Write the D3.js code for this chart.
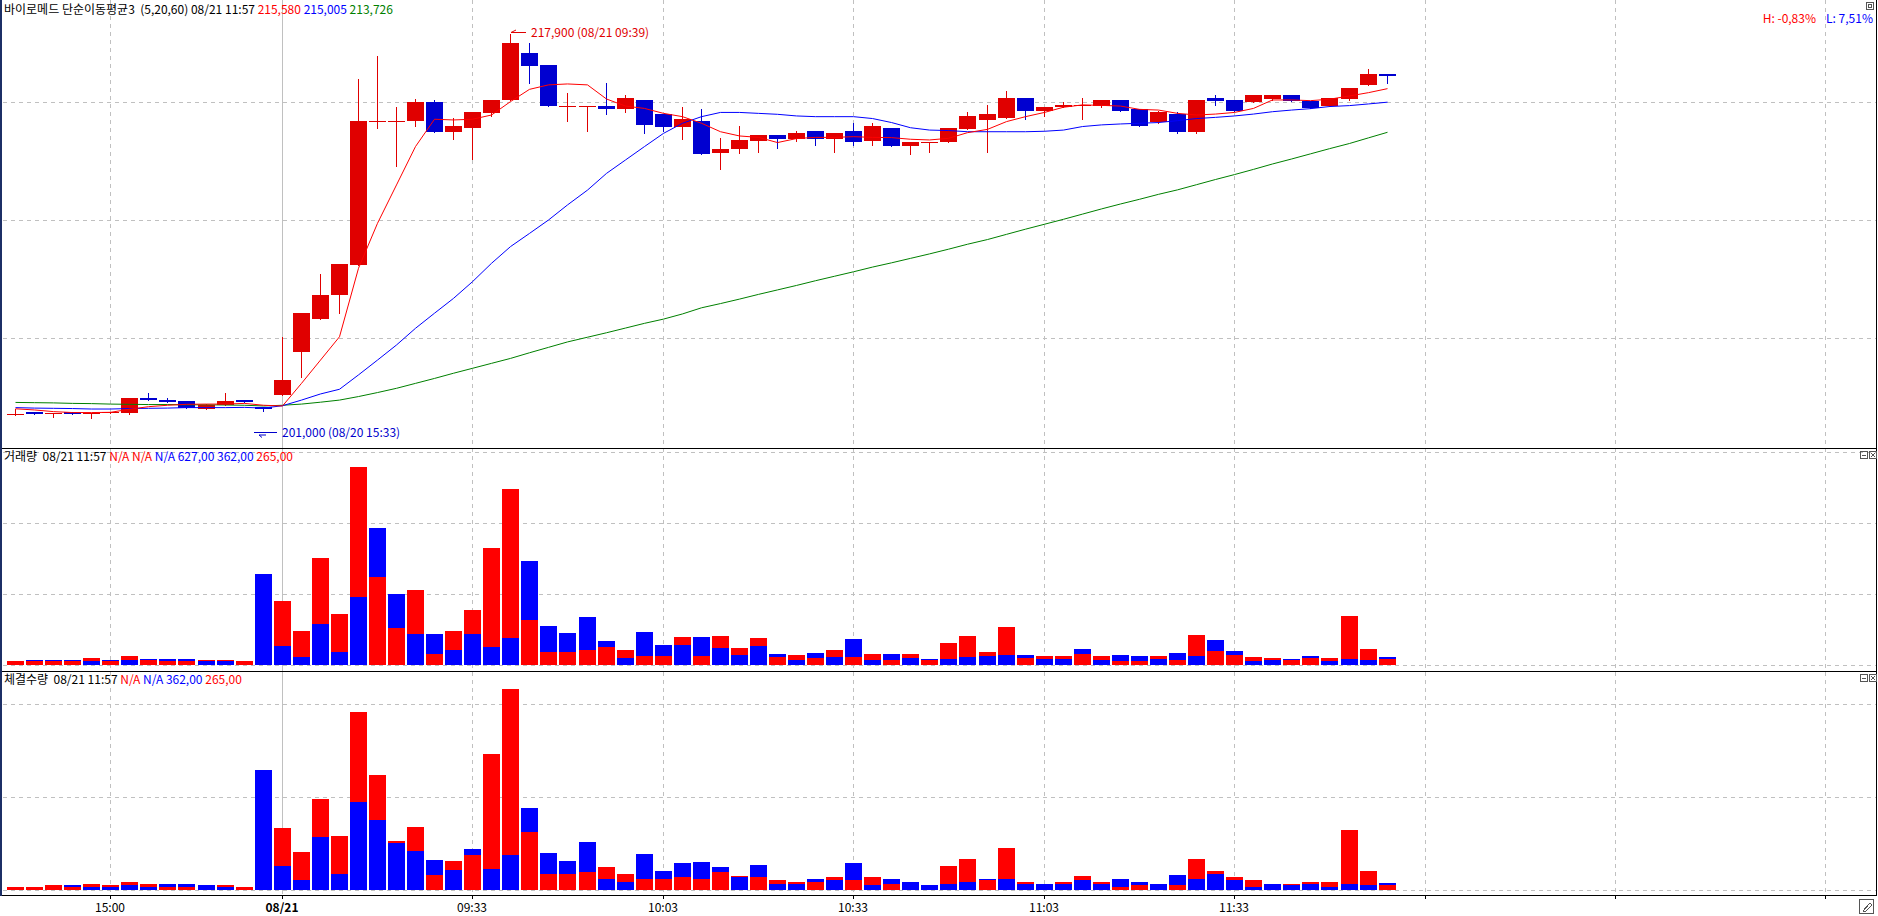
<!DOCTYPE html>
<html><head><meta charset="utf-8">
<script src="https://cdn.jsdelivr.net/npm/d3@7"></script>
<style>
html,body{margin:0;padding:0;background:#fff;overflow:hidden}
svg{display:block}
text{font-family:"Noto Sans CJK KR","Noto Sans",sans-serif;font-size:12px}
</style></head><body>
<svg id="c" width="1878" height="916"></svg>
<script>
// ---------- DATA ----------
const tickBars   = [5, 14, 24, 34, 44, 54, 64, 74, 84, 95];
const tickLabels = ["15:00", "08/21", "09:33", "10:03", "10:33", "11:03", "11:33", "", "", ""];

const opens  = [201750,201850,201750,201850,201750,201800,201800,202450,202350,202300,201950,202150,202350,202050,
  202550,204400,205800,206800,208100,214200,214200,214200,215000,213750,213900,214550,215100,217100,216600,214850,
  214850,214850,214700,215100,214500,213950,214200,212850,213000,213350,213600,213450,213800,213450,213800,213350,
  213900,213150,213300,213300,213850,214250,214350,215200,214650,214800,214900,214850,215100,214700,214150,214500,
  213750,215200,215100,215000,215150,215300,215050,214850,215150,215750,216200];
const highs  = [201950,201850,201800,201850,201800,201850,202450,202650,202450,202300,202200,202650,202350,202050,
  205050,206050,207700,208150,216000,216950,214800,215150,215100,214350,214600,215100,217900,217500,216600,215400,
  214850,215800,215300,215100,214500,214800,214700,213500,214000,213600,213600,213800,213800,213700,214100,214100,
  213900,213300,213300,213900,214600,214900,215500,215200,214800,215000,215200,215100,215100,214700,214650,214600,
  215100,215300,215100,215300,215300,215300,215050,215200,215600,216400,216200];
const lows   = [201700,201750,201650,201750,201600,201800,201750,202350,202250,202000,201950,202150,202250,201900,
  202550,203350,205800,206050,208100,213900,212300,214000,213750,213450,212600,214400,215100,215800,214850,214200,
  213800,214500,214600,213700,213800,213450,212800,212150,212850,212900,213050,213350,213200,212900,213200,213200,
  213150,212800,212900,213300,213850,212900,214350,214300,214400,214800,214300,214800,214650,214000,214100,213700,
  213700,214900,214650,215000,215100,215050,214750,214850,215100,215750,215800];
const closes = [201750,201750,201800,201750,201800,201850,202450,202350,202250,202000,202150,202300,202250,201950,
  203200,206050,206800,208150,214200,214200,214200,215000,213750,214000,214600,215100,217500,216550,214850,214850,
  214850,214700,215200,214050,213950,214300,212800,213000,213400,213600,213450,213700,213450,213700,213300,214000,
  213150,213300,213300,213900,214400,214500,215200,214650,214800,214900,214900,215100,214650,214000,214600,213750,
  215100,215050,214650,215300,215300,215050,214750,215200,215600,216200,216100];

const ma5  = [201980,201930,201860,201820,201820,201830,201960,202070,202130,202170,202180,202180,202210,202130,
  202100,203060,204050,205040,207950,209860,211490,213120,214280,214250,214280,214460,215030,215550,215740,215780,
  215740,215140,214840,214740,214530,214390,214110,213750,213570,213510,213290,213460,213510,213510,213540,213510,
  213500,213430,213400,213470,213710,213850,214180,214390,214570,214790,214890,214870,214840,214700,214670,214530,
  214460,214500,214570,214740,215100,215100,215070,215130,215270,215410,215580];
const ma20 = [202030,202010,202000,201990,201970,201970,201990,202000,202010,202030,202030,202030,202040,202010,
  202110,202350,202610,202810,203420,204050,204690,205400,206040,206670,207380,208160,208870,209430,210000,210640,
  211270,211980,212550,213120,213680,214110,214390,214570,214570,214530,214490,214420,214390,214390,214390,214310,
  214140,213920,213820,213800,213750,213750,213750,213750,213770,213820,213970,214040,214080,214110,214140,214220,
  214310,214360,214420,214500,214600,214670,214730,214820,214860,214930,215005];
const ma60 = [202250,202240,202230,202210,202200,202180,202170,202160,202160,202150,202150,202140,202130,202100,
  202130,202180,202260,202350,202500,202670,202850,203060,203270,203490,203700,203910,204120,204360,204590,204820,
  205020,205210,205410,205610,205790,206010,206270,206450,206640,206840,207030,207220,207420,207610,207800,208000,
  208180,208370,208560,208760,208970,209170,209390,209610,209820,210030,210250,210470,210680,210880,211090,211280,
  211500,211720,211930,212150,212380,212590,212810,213030,213250,213490,213726];

const volRed  = [150,150,150,150,300,150,400,200,150,150,200,200,150,0,3140,1680,5250,2520,9800,4310,1830,3710,540,1680,
  2720,5790,8710,2190,640,640,710,890,740,400,400,1340,400,1390,840,1290,350,450,300,740,350,540,200,500,200,1040,1390,
  640,1880,300,400,400,500,400,150,150,400,200,1440,690,450,350,300,200,300,300,2380,790,265];
const volBlue = [0,200,200,200,150,200,200,250,250,250,150,150,0,4500,910,360,2000,610,3320,6780,3470,1500,1530,740,
  1530,860,1300,5100,1930,1580,2330,1140,300,1630,990,990,1340,840,450,940,500,200,590,350,1240,200,500,300,250,250,350,
  400,450,450,250,250,790,200,450,400,250,590,400,1190,690,150,200,250,400,150,250,200,362];

const exeRed  = [160,160,220,160,320,220,430,270,160,160,0,220,160,0,3290,2000,4860,2860,9560,6160,2590,3350,760,1510,
  1850,7290,10800,3080,860,860,920,1190,810,540,540,650,540,920,700,650,490,430,380,650,490,650,270,430,0,1240,1620,
  490,2210,380,0,380,700,430,160,220,0,220,1620,970,650,490,0,270,380,380,3190,970,265];
const exeBlue = [0,0,0,220,160,160,220,160,270,320,220,160,0,6430,1240,490,2830,810,4700,3730,2500,2050,1570,1030,
  2160,1130,1840,4370,1940,1510,2540,540,380,1890,970,1400,1460,1190,650,1300,320,270,590,490,1400,220,540,380,220,
  320,430,540,590,320,320,270,490,270,540,430,320,760,540,810,490,160,270,220,320,160,320,220,362];

const priceGrid = [205000, 210000, 215000];
const volGrid   = [0, 3500, 7000, 10500];
const exeGrid   = [0, 5000, 10000];

const extremeValues = [217900, 201000];
const extremeBars   = [26, 13];
const extremeLabels = ["217,900 (08/21 09:39)", "201,000 (08/20 15:33)"];

const titleText = "바이로메드 단순이동평균3  (5,20,60) 08/21 11:57";
const titleValues = ["215,580", "215,005", "213,726"];
const volTitle = "거래량  08/21 11:57";
const volValues = ["N/A", "N/A", "N/A", "627,00", "362,00", "265,00"];
const exeTitle = "체결수량  08/21 11:57";
const exeValues = ["N/A", "N/A", "362,00", "265,00"];
const hlLabels = ["H: -0,83%", "L: 7,51%"];

// ---------- DRAW ----------
const RED = "#e00000", BLUE = "#0000d0", VRED = "#ff0000", VBLUE = "#0000ff", GREEN = "#008000", GRID = "#c0c0c0";
const svg = d3.select("#c");
const x = d3.scaleLinear().domain([0, 95]).range([15, 1824.75]);
const yP = d3.scaleLinear().domain([205000, 215000]).range([337.7, 102.3]);
const yV = d3.scaleLinear().domain([0, 10500]).range([664.5, 452.4]);
const yE = d3.scaleLinear().domain([0, 5000]).range([889.5, 796.6]);
const cx = i => Math.round(x(i));
const idx = d3.range(closes.length);

svg.append("rect").attr("width", 1878).attr("height", 916).attr("fill", "#fff");

// vertical grid
const g = svg.append("g").attr("shape-rendering", "crispEdges");
tickBars.forEach((b, k) => {
  const xx = cx(b) + 0.5;
  g.append("line").attr("x1", xx).attr("x2", xx).attr("y1", 0).attr("y2", 894)
    .attr("stroke", GRID).attr("stroke-dasharray", k === 1 ? null : "4,4");
});
// horizontal grids
priceGrid.forEach(v => g.append("line").attr("x1", 3).attr("x2", 1876).attr("y1", Math.round(yP(v)) + 0.5).attr("y2", Math.round(yP(v)) + 0.5)
  .attr("stroke", GRID).attr("stroke-dasharray", "4,4"));
volGrid.forEach(v => g.append("line").attr("x1", 3).attr("x2", 1876).attr("y1", Math.round(yV(v)) + 0.5).attr("y2", Math.round(yV(v)) + 0.5)
  .attr("stroke", GRID).attr("stroke-dasharray", "4,4"));
exeGrid.forEach(v => g.append("line").attr("x1", 3).attr("x2", 1876).attr("y1", Math.round(yE(v)) + 0.5).attr("y2", Math.round(yE(v)) + 0.5)
  .attr("stroke", GRID).attr("stroke-dasharray", "4,4"));

// candles
const cg = svg.append("g").attr("shape-rendering", "crispEdges");
idx.forEach(i => {
  const o = opens[i], c = closes[i], h = highs[i], l = lows[i];
  const col = c >= o ? RED : BLUE;
  const xc = cx(i);
  cg.append("line").attr("x1", xc + 0.5).attr("x2", xc + 0.5)
    .attr("y1", Math.round(yP(h))).attr("y2", Math.round(yP(l)) + 1).attr("stroke", col);
  const top = Math.round(yP(Math.max(o, c))), bot = Math.round(yP(Math.min(o, c)));
  cg.append("rect").attr("x", xc - 8).attr("width", 17)
    .attr("y", top).attr("height", Math.max(1, bot - top)).attr("fill", col);
});

// moving averages
const lineGen = arr => d3.line().x((d, i) => cx(i) + 0.5).y(d => yP(d))(arr);
[[ma60, GREEN], [ma20, VBLUE], [ma5, VRED]].forEach(([arr, col]) => {
  svg.append("path").attr("d", lineGen(arr)).attr("fill", "none").attr("stroke", col).attr("stroke-width", 1);
});

// volume-like overlapped bars
function overlapBars(reds, blues, ys) {
  const bg = svg.append("g").attr("shape-rendering", "crispEdges");
  idx.forEach(i => {
    const pair = [[reds[i], VRED], [blues[i], VBLUE]].sort((a, b) => b[0] - a[0]);
    pair.forEach(([v, col]) => {
      if (v <= 0) return;
      const top = Math.round(ys(v)), base = Math.round(ys(0));
      bg.append("rect").attr("x", cx(i) - 8).attr("width", 17).attr("y", top)
        .attr("height", Math.max(1, base - top)).attr("fill", col);
    });
  });
}
overlapBars(volRed, volBlue, yV);
overlapBars(exeRed, exeBlue, yE);

// extreme markers
const mk = svg.append("g");
{
  const b = extremeBars[0], yy = Math.round(yP(extremeValues[0])) - 1.5, xx = cx(b) + 1;
  mk.append("path").attr("d", `M${xx},${yy}H${xx + 15}M${xx},${yy}L${xx + 5},${yy - 2.5}`).attr("stroke", RED).attr("fill", "none");
  mk.append("text").attr("x", xx + 20).attr("y", yy + 4).attr("fill", RED).text(extremeLabels[0]);
}
{
  const b = extremeBars[1], yy = Math.round(yP(extremeValues[1])) + 0.5, xx = cx(b) - 9;
  mk.append("path").attr("d", `M${xx},${yy}H${xx + 23}M${xx + 5},${yy + 2.5}H${xx + 12}M${xx + 5},${yy + 2.5}L${xx + 8},${yy + 5}`).attr("stroke", "#0000cc").attr("fill", "none");
  mk.append("text").attr("x", xx + 28).attr("y", yy + 4).attr("fill", "#0000cc").text(extremeLabels[1]);
}

// frame lines
const fr = svg.append("g").attr("shape-rendering", "crispEdges");
fr.append("line").attr("x1", 0).attr("x2", 1877).attr("y1", 448.5).attr("y2", 448.5).attr("stroke", "#000");
fr.append("line").attr("x1", 0).attr("x2", 1877).attr("y1", 671.5).attr("y2", 671.5).attr("stroke", "#000");
fr.append("line").attr("x1", 0).attr("x2", 1877).attr("y1", 895.5).attr("y2", 895.5).attr("stroke", "#000");
fr.append("line").attr("x1", 1876.5).attr("x2", 1876.5).attr("y1", 0).attr("y2", 896).attr("stroke", "#000");
fr.append("rect").attr("x", 0).attr("y", 0).attr("width", 2).attr("height", 896).attr("fill", "#1c2f66");

// x axis ticks & labels
tickBars.forEach((b, k) => {
  fr.append("line").attr("x1", cx(b) + 0.5).attr("x2", cx(b) + 0.5).attr("y1", 896).attr("y2", 899).attr("stroke", "#000");
  if (tickLabels[k]) svg.append("text").attr("x", cx(b)).attr("y", 912).attr("text-anchor", "middle")
    .attr("font-weight", k === 1 ? "bold" : null).attr("fill", "#000").text(tickLabels[k]);
});

// titles
function title(yy, label, vals, cols) {
  const t = svg.append("text").attr("x", 4).attr("y", yy).attr("fill", "#000").attr("xml:space", "preserve");
  t.append("tspan").text(label);
  vals.forEach((v, k) => t.append("tspan").attr("fill", cols[k]).text(" " + v));
}
title(14, titleText, titleValues, [VRED, VBLUE, GREEN]);
title(461, volTitle, volValues, [VRED, VRED, VBLUE, VBLUE, VBLUE, VRED]);
title(684, exeTitle, exeValues, [VRED, VBLUE, VBLUE, VRED]);

svg.append("text").attr("x", 1816).attr("y", 23).attr("text-anchor", "end").attr("fill", VRED).text(hlLabels[0]);
svg.append("text").attr("x", 1873).attr("y", 23).attr("text-anchor", "end").attr("fill", VBLUE).text(hlLabels[1]);

// small window icons
const ic = svg.append("g").attr("shape-rendering", "crispEdges").attr("fill", "none").attr("stroke", "#555");
ic.append("rect").attr("x", 1866.5).attr("y", 2.5).attr("width", 7).attr("height", 7);
ic.append("rect").attr("x", 1868.5).attr("y", 4.5).attr("width", 3).attr("height", 3);
[451.5, 674.5].forEach(yy => {
  ic.append("rect").attr("x", 1860.5).attr("y", yy).attr("width", 7).attr("height", 7);
  ic.append("line").attr("x1", 1862).attr("x2", 1866).attr("y1", yy + 3.5).attr("y2", yy + 3.5);
  ic.append("rect").attr("x", 1869.5).attr("y", yy).attr("width", 7).attr("height", 7);
  ic.append("path").attr("d", `M${1871},${yy + 1.5}L${1875},${yy + 5.5}M${1875},${yy + 1.5}L${1871},${yy + 5.5}`);
});
ic.append("rect").attr("x", 1859.5).attr("y", 899.5).attr("width", 14).attr("height", 14);
ic.append("path").attr("d", "M1863,911L1870,903L1872,905L1865,912Z");
</script>
</body></html>
